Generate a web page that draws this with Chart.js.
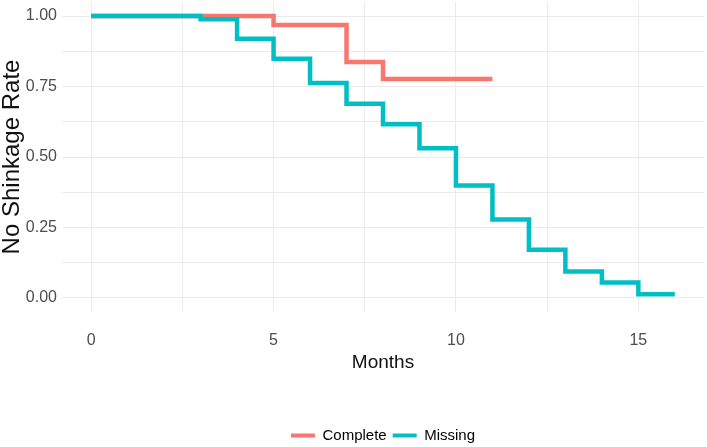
<!DOCTYPE html>
<html>
<head>
<meta charset="utf-8">
<script src="https://cdn.jsdelivr.net/npm/chart.js@4/dist/chart.umd.min.js"></script>
<style>
html,body{margin:0;padding:0;background:#fff;}
#wrap{width:707px;height:447px;}
</style>
</head>
<body>
<div id="wrap"><canvas id="c" width="707" height="447"></canvas></div>
<script>
// Data (Kaplan-Meier style step curves)
const seriesNames = ['Complete', 'Missing'];
const completeMonths = [0, 5, 7, 8, 11];
const completeRate   = [1.00, 0.968, 0.837, 0.777, 0.777];
const missingMonths  = [0, 3, 4, 5, 6, 7, 8, 9, 10, 11, 12, 13, 14, 15, 16];
const missingRate    = [1.00, 0.989, 0.920, 0.849, 0.763, 0.689, 0.616, 0.531, 0.399, 0.278, 0.171, 0.094, 0.055, 0.013, 0.013];
const xTickLabels = [0, 5, 10, 15];
const yTickLabels = [0, 0.25, 0.5, 0.75, 1];

const fam = "'Liberation Sans', Arial, sans-serif";
const gridColor = '#ebebeb';

function pts(xs, ys){ return xs.map((x,i)=>({x:x, y:ys[i]})); }
function noPad(s){ s.paddingTop = 0; s.paddingBottom = 0; s.paddingLeft = 0; s.paddingRight = 0; }

new Chart(document.getElementById('c'), {
  type: 'line',
  data: {
    datasets: [
      { label: seriesNames[0], data: pts(completeMonths, completeRate), borderColor: '#F8766D', backgroundColor: '#F8766D',
        stepped: 'before', borderWidth: 4.5, pointRadius: 0, fill: false, order: 1,
        borderJoinStyle: 'miter', borderCapStyle: 'butt' },
      { label: seriesNames[1], data: pts(missingMonths, missingRate), borderColor: '#00BFC4', backgroundColor: '#00BFC4',
        stepped: 'before', borderWidth: 4.5, pointRadius: 0, fill: false, order: 0,
        borderJoinStyle: 'miter', borderCapStyle: 'butt' }
    ]
  },
  options: {
    responsive: false,
    animation: false,
    layout: { padding: { top: 2, right: 3, bottom: -6, left: 0 } },
    plugins: {
      tooltip: { enabled: false },
      legend: {
        position: 'bottom',
        fullSize: false,
        labels: {
          boxWidth: 24, boxHeight: 4, padding: 6,
          color: '#1a1a1a',
          font: { family: fam, size: 15 },
          sort: (a, b) => a.datasetIndex - b.datasetIndex,
          generateLabels: (chart) => chart.data.datasets.map((ds, i) => ({
            text: ds.label, fillStyle: ds.borderColor, strokeStyle: ds.borderColor,
            lineWidth: 0, hidden: false, datasetIndex: i
          }))
        }
      }
    },
    scales: {
      x: {
        type: 'linear', min: -0.8, max: 16.8,
        afterFit: (s) => { s.height = 110; noPad(s); },
        border: { display: false },
        grid: { color: gridColor, lineWidth: 1, drawTicks: false },
        ticks: {
          stepSize: 2.5, includeBounds: false, autoSkip: false, maxRotation: 0, padding: 19,
          color: '#4d4d4d', font: { family: fam, size: 16 },
          callback: (v) => xTickLabels.includes(v) ? String(v) : ''
        },
        title: { display: true, text: 'Months', color: '#111', font: { family: fam, size: 19, lineHeight: 1.2 }, padding: { top: 0, bottom: 48 } }
      },
      y: {
        type: 'linear', min: -0.05, max: 1.05,
        afterFit: (s) => { s.width = 62; noPad(s); },
        border: { display: false },
        grid: { color: gridColor, lineWidth: 1, drawTicks: false },
        ticks: {
          stepSize: 0.125, includeBounds: false, autoSkip: false, padding: 5,
          color: '#4d4d4d', font: { family: fam, size: 16 },
          callback: (v) => yTickLabels.some(t => Math.abs(t - v) < 1e-9) ? v.toFixed(2) : ''
        },
        title: { display: true, text: 'No Shinkage Rate', color: '#111', font: { family: fam, size: 24, lineHeight: 1 }, padding: 0 }
      }
    }
  }
});
</script>
</body>
</html>
